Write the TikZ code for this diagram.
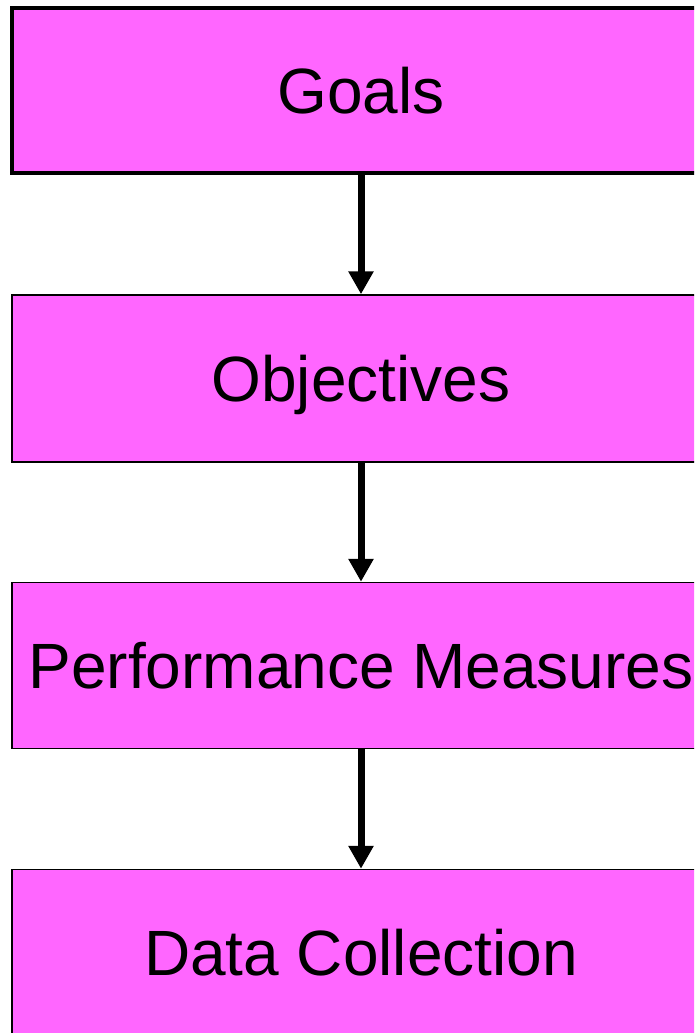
\documentclass[tikz,border=0pt]{standalone}
\usepackage{fontspec}
\setmainfont{Liberation Sans}
\usetikzlibrary{arrows.meta}
\definecolor{boxfill}{RGB}{255,102,255}
\tikzset{
  flowbox/.style={draw=black, fill=boxfill, rectangle, minimum width=698pt,
    inner sep=0pt, text height=45.8pt, text depth=0pt,
    font=\fontsize{64}{76}\selectfont},
  flowarrow/.style={line width=7pt, -{Triangle[width=24pt,length=23pt]}}
}
\begin{document}
\begin{tikzpicture}[x=1pt,y=1pt]
\useasboundingbox (0,0) rectangle (694,-1033);
\clip (0,0) rectangle (694,-1033);
\fill[white] (0,0) rectangle (694,-1033);
\node[flowbox, line width=4pt, minimum height=165pt] (goals) at (361,-90.5) {Goals};
\node[flowbox, line width=1.5pt, minimum height=167pt] (obj) at (361,-378.5) {Objectives};
\node[flowbox, line width=1.5pt, minimum height=166pt] (perf) at (361,-665.5) {Performance Measures};
\node[flowbox, line width=1.5pt, minimum height=167pt] (data) at (361,-953) {Data Collection};
\draw[flowarrow] (goals.south) -- (obj.north);
\draw[flowarrow] (obj.south) -- (perf.north);
\draw[flowarrow] (perf.south) -- (data.north);
\end{tikzpicture}
\end{document}
